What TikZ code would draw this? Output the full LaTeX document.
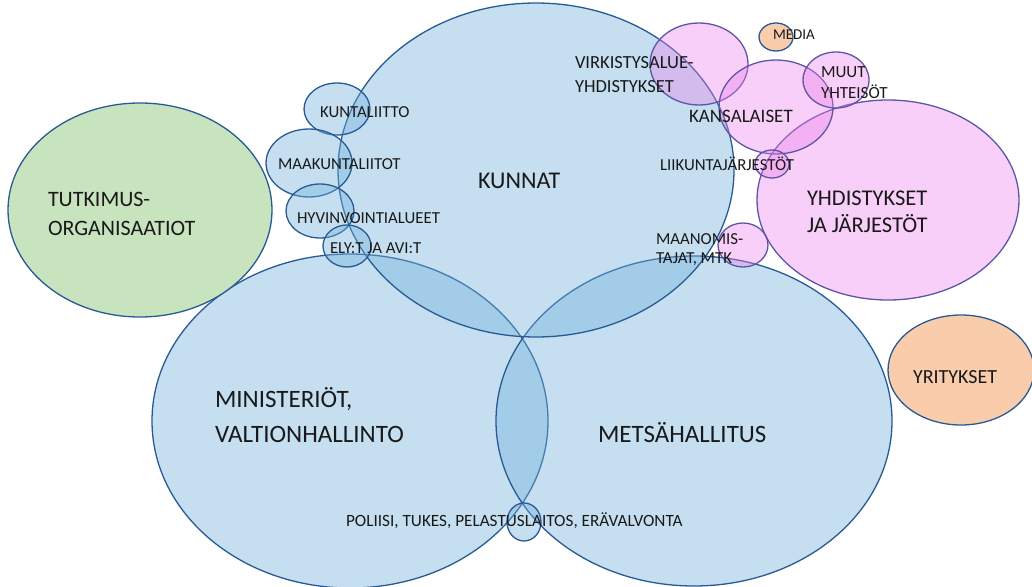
\documentclass[tikz,border=0pt]{standalone}
\usepackage{fontspec}
\setmainfont{Carlito}
\usetikzlibrary{shapes.geometric}
\definecolor{bluefill}{RGB}{110,175,218}
\definecolor{blueline}{RGB}{40,90,148}
\definecolor{pinkfill}{RGB}{236,128,236}
\definecolor{pinkline}{RGB}{95,85,165}
\definecolor{greenfill}{RGB}{200,228,190}
\definecolor{orangefill}{RGB}{249,205,172}
\definecolor{txt}{RGB}{25,25,25}
\begin{document}
\begin{tikzpicture}[x=1pt,y=-1pt,
  blob/.style={ellipse, inner sep=0pt, outer sep=0pt, line width=1.3pt},
  blueblob/.style={blob, draw=blueline, fill=bluefill, fill opacity=0.4},
  pinkblob/.style={blob, draw=pinkline, fill=pinkfill, fill opacity=0.38},
  greenblob/.style={blob, draw=blueline, fill=greenfill},
  orangeblob/.style={blob, draw=blueline, fill=orangefill},
  lbl/.style={anchor=base west, inner sep=0pt, outer sep=0pt, text=txt, align=left},
  big/.style={lbl, font=\fontsize{25}{35}\selectfont},
  small/.style={lbl, font=\fontsize{16.8}{18.5}\selectfont}
]
\useasboundingbox (0,0) rectangle (1032,586);
\clip (0,0) rectangle (1032,586);
% large blue
\node[blueblob, minimum width=396pt, minimum height=334pt] (min) at (350,421) {};
\node[blueblob, minimum width=396pt, minimum height=330pt] (mets) at (694,421) {};
\node[blueblob, minimum width=396pt, minimum height=334pt] (kunnat) at (536,170) {};
% small blue
\node[blueblob, minimum width=66pt, minimum height=52pt] (kl) at (337,109) {};
\node[blueblob, minimum width=86pt, minimum height=68pt] (mkl) at (309,163) {};
\node[blueblob, minimum width=68pt, minimum height=54pt] (hva) at (320,211) {};
\node[blueblob, minimum width=48pt, minimum height=42pt] (ely) at (347,246) {};
\node[blueblob, minimum width=34pt, minimum height=38pt] (pol) at (524,522) {};
% green / orange
\node[greenblob, minimum width=264pt, minimum height=214pt] (tutk) at (140,210) {};
\node[orangeblob, minimum width=146pt, minimum height=110pt] (yrit) at (961,370) {};
\node[orangeblob, minimum width=34pt, minimum height=28pt] (media) at (776,37) {};
% pink
\node[pinkblob, minimum width=262pt, minimum height=200pt] (yhd) at (888,200) {};
\node[pinkblob, minimum width=98pt, minimum height=82pt] (virk) at (699,64) {};
\node[pinkblob, minimum width=114pt, minimum height=94pt] (kans) at (776,107) {};
\node[pinkblob, minimum width=66pt, minimum height=56pt] (muut) at (836,80) {};
\node[pinkblob, minimum width=34pt, minimum height=28pt] (liik) at (772,164) {};
\node[pinkblob, minimum width=50pt, minimum height=44pt] (maan) at (743,245) {};
% labels (multi-line nodes: base = last line)
\node[lbl, font=\fontsize{24}{30}\selectfont] (tkunnat) at (478,188) {KUNNAT};
\node[big] (tmin) at (215,442) {MINISTERIÖT,\\VALTIONHALLINTO};
\node[big] (tmets) at (598,442) {METSÄHALLITUS};
\node[lbl, font=\fontsize{22}{29}\selectfont] (ttutk) at (48,235) {TUTKIMUS-\\ORGANISAATIOT};
\node[lbl, font=\fontsize{22.5}{27}\selectfont] (tyhd) at (807,232) {YHDISTYKSET\\JA JÄRJESTÖT};
\node[lbl, font=\fontsize{20}{24}\selectfont] (tyrit) at (913,383) {YRITYKSET};
\node[lbl, font=\fontsize{15}{18}\selectfont] (tmedia) at (773,40) {MEDIA};
\node[lbl, font=\fontsize{18.5}{24}\selectfont] (tvirk) at (575,92) {VIRKISTYSALUE-\\YHDISTYKSET};
\node[lbl, font=\fontsize{19}{24}\selectfont] (tkans) at (689,122) {KANSALAISET};
\node[lbl, font=\fontsize{17}{21}\selectfont] (tmuut) at (821,98) {MUUT\\YHTEISÖT};
\node[small] (tliik) at (660,170) {LIIKUNTAJÄRJESTÖT};
\node[small] (tmaan) at (656,263) {MAANOMIS-\\TAJAT, MTK};
\node[small] (tkl) at (320,117) {KUNTALIITTO};
\node[small] (tmkl) at (278,169) {MAAKUNTALIITOT};
\node[small] (thva) at (297,223) {HYVINVOINTIALUEET};
\node[small] (tely) at (330,253) {ELY:T JA AVI:T};
\node[lbl, font=\fontsize{17.2}{20}\selectfont] (tpol) at (346,526) {POLIISI, TUKES, PELASTUSLAITOS, ERÄVALVONTA};
\end{tikzpicture}
\end{document}
